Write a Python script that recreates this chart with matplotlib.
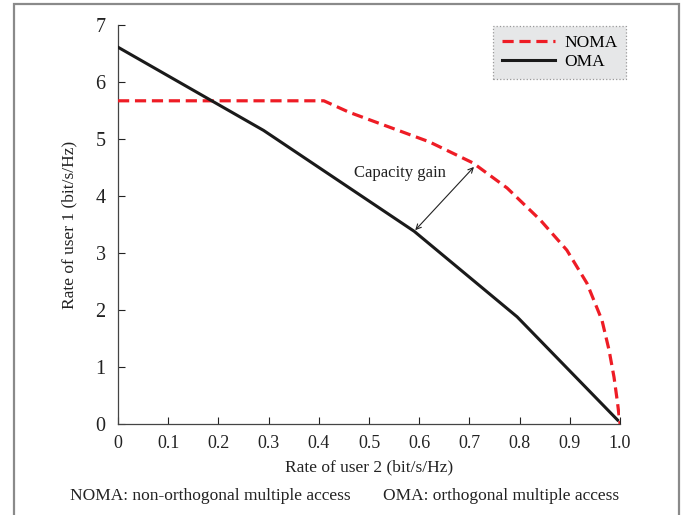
import matplotlib.pyplot as plt
from matplotlib.patches import Rectangle

# rate region data
noma_x = [0.0, 0.41, 0.46, 0.54, 0.62, 0.707, 0.775, 0.841, 0.894, 0.934, 0.964,
          0.978, 0.988, 0.995, 1.0]
noma_y = [5.67, 5.67, 5.47, 5.21, 4.95, 4.58, 4.14, 3.58, 3.05, 2.47, 1.82,
          1.30, 0.82, 0.37, 0.0]
oma_x = [0.0, 0.29, 0.59, 0.795, 0.995]
oma_y = [6.61, 5.15, 3.38, 1.88, 0.07]

xticks = [0, 0.1, 0.2, 0.3, 0.4, 0.5, 0.6, 0.7, 0.8, 0.9, 1.0]
xtick_labels = ["0", "0.1", "0.2", "0.3", "0.4", "0.5", "0.6", "0.7", "0.8", "0.9", "1.0"]
yticks = [0, 1, 2, 3, 4, 5, 6, 7]

plt.rcParams['font.family'] = ['Liberation Serif', 'DejaVu Serif']

fig = plt.figure(figsize=(6.81, 5.15), dpi=100)
ax = fig.add_axes([0.1733, 0.1767, 0.7372, 0.7748])

red = '#ee1c25'
ax.plot(noma_x, noma_y, color=red, lw=2.3, ls=(0, (3.5, 1.8)), label='NOMA', zorder=3)
ax.plot(oma_x, oma_y, color='#1a1a1a', lw=2.2, label='OMA', zorder=3)

# capacity gain arrow
ax.annotate('', xy=(0.709, 4.51), xytext=(0.592, 3.40),
            arrowprops=dict(arrowstyle='<->', color='#222222', lw=0.8,
                            shrinkA=0, shrinkB=0, mutation_scale=9))
ax.text(0.562, 4.40, 'Capacity gain', fontsize=12, ha='center', va='center', color='#222222')

ax.set_xlim(0, 1.0)
ax.set_ylim(0, 7)
ax.set_xticks(xticks)
ax.set_xticklabels(xtick_labels)
ax.set_yticks(yticks)
ax.tick_params(direction='in', length=5, width=0.8, colors='#222222')
ax.tick_params(axis='x', pad=8, labelsize=13)
ax.tick_params(axis='y', pad=9, labelsize=14.5)
ax.spines['top'].set_visible(False)
ax.spines['right'].set_visible(False)
for s in ['left', 'bottom']:
    ax.spines[s].set_color('#444444')
    ax.spines[s].set_linewidth(0.9)

ax.set_xlabel('Rate of user 2 (bit/s/Hz)', fontsize=12.5, labelpad=5, color='#222222')
ax.set_ylabel('Rate of user 1 (bit/s/Hz)', fontsize=12.5, labelpad=13, color='#222222')

leg = ax.legend(loc='upper right', bbox_to_anchor=(1.012, 0.998), fontsize=12.5,
                fancybox=False, handlelength=3.1, borderpad=0.5, labelspacing=0.2,
                handletextpad=0.5, borderaxespad=0.0)
frame = leg.get_frame()
frame.set_facecolor('#e6e7e8')
frame.set_edgecolor('#999999')
frame.set_linestyle(':')
frame.set_linewidth(0.9)
frame.set_alpha(1)

fig.text(0.103, 0.036, 'NOMA: non-orthogonal multiple access', fontsize=12.5, ha='left', va='center', color='#222222')
fig.text(0.563, 0.036, 'OMA: orthogonal multiple access', fontsize=12.5, ha='left', va='center', color='#222222')

# outer gray frame (open at the bottom)
fig.patches.append(Rectangle((14 / 681, -0.05), (679 - 14) / 681, 1 - 4 / 515 + 0.05,
                             transform=fig.transFigure, fill=False,
                             edgecolor='#8a8a8a', lw=1.6))

fig.savefig('out.png', dpi=100)
